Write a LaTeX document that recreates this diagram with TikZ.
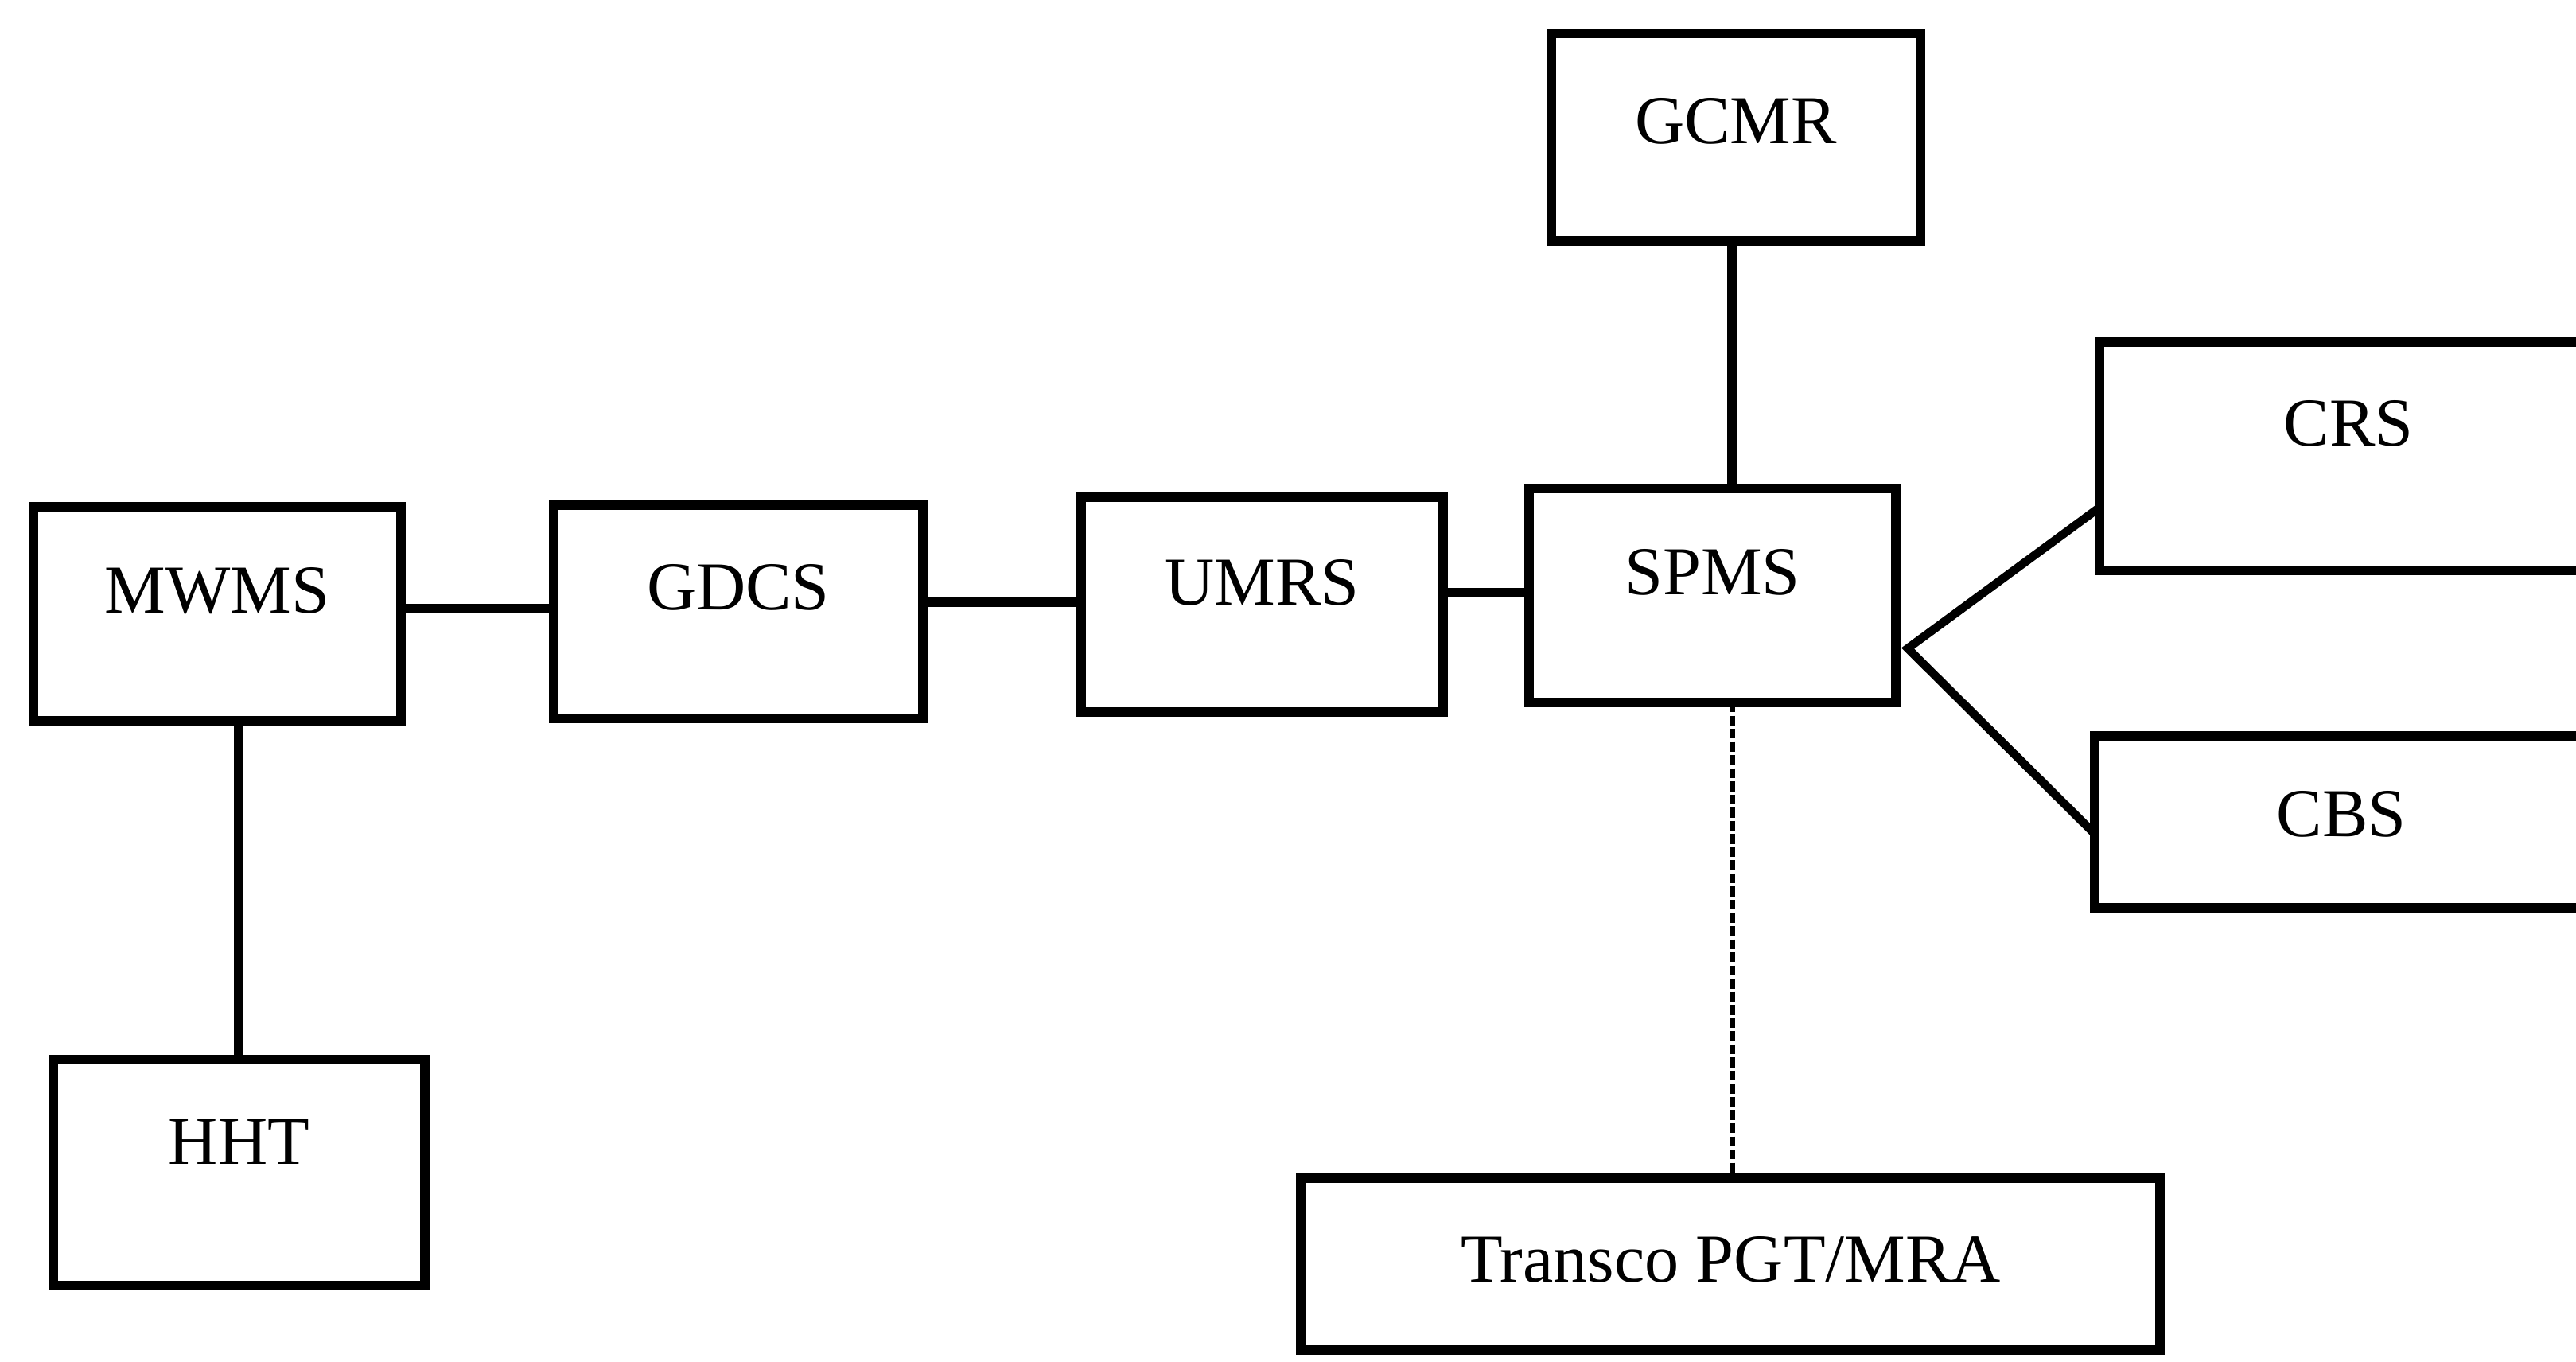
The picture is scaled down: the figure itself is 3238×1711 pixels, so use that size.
\documentclass[tikz,border=0pt]{standalone}
\usepackage{fontspec}
\setmainfont{Liberation Serif}
\begin{document}
\begin{tikzpicture}[x=0.01cm,y=-0.01cm,
  sysbox/.style={draw=black,line width=3.6pt,inner sep=0pt,outer sep=0pt,rectangle},
  lbl/.style={inner sep=0pt,text height=16pt,text depth=0pt,
    font=\fontsize{24.5pt}{29pt}\selectfont},
  link/.style={draw=black,line width=3.6pt},
  weaklink/.style={draw=black,line width=2pt,dash pattern=on 3.5pt off 1.2pt}]
\useasboundingbox (0,0) rectangle (3238,1711);
\clip (0,0) rectangle (3238,1711);

% systems
\node[sysbox,minimum width=4.62cm,minimum height=2.69cm,
  label={[lbl,yshift=0.29cm]center:MWMS}] (mwms) at (273,771.5) {};
\node[sysbox,minimum width=4.64cm,minimum height=2.68cm,
  label={[lbl,yshift=0.31cm]center:GDCS}] (gdcs) at (928,769) {};
\node[sysbox,minimum width=4.55cm,minimum height=2.70cm,
  label={[lbl,yshift=0.28cm]center:UMRS}] (umrs) at (1586.5,760) {};
\node[sysbox,minimum width=4.61cm,minimum height=2.69cm,
  label={[lbl,yshift=0.29cm]center:SPMS}] (spms) at (2152.5,748.5) {};
\node[sysbox,minimum width=4.64cm,minimum height=2.61cm,
  label={[lbl,yshift=0.20cm]center:GCMR}] (gcmr) at (2182,172.5) {};
\node[sysbox,minimum width=6.26cm,minimum height=2.87cm,
  label={[lbl,yshift=0.41cm]center:CRS}] (crs) at (2952,573.5) {};
\node[sysbox,minimum width=6.20cm,minimum height=2.16cm,
  label={[lbl,yshift=0.10cm]center:CBS}] (cbs) at (2943,1033) {};
\node[sysbox,minimum width=4.67cm,minimum height=2.84cm,
  label={[lbl,yshift=0.39cm]center:HHT}] (hht) at (300.5,1474) {};
\node[sysbox,minimum width=10.79cm,minimum height=2.16cm,
  label={[lbl,yshift=0.06cm]center:Transco PGT/MRA}] (transco) at (2175.5,1589) {};

% reference points for the connectors
\coordinate (row1) at (0,765);
\coordinate (row2) at (0,757);
\coordinate (row3) at (0,745);
\coordinate (colA) at (300,0);
\coordinate (colB) at (2177,0);
\coordinate (crsin) at (0,638);
\coordinate (cbsin) at (0,1048);
\coordinate (fork) at (2398,815);

% connectors
\draw[link] (mwms.east |- row1) -- (gdcs.west |- row1);
\draw[link] (gdcs.east |- row2) -- (umrs.west |- row2);
\draw[link] (umrs.east |- row3) -- (spms.west |- row3);
\draw[link] (mwms.south -| colA) -- (hht.north -| colA);
\draw[link] (gcmr.south -| colB) -- (spms.north -| colB);
\draw[link,line width=3pt,line join=miter] (crs.west |- crsin) -- (fork) -- (cbs.west |- cbsin);
\draw[weaklink] (spms.south -| colB) -- (transco.north -| colB);
\end{tikzpicture}
\end{document}
